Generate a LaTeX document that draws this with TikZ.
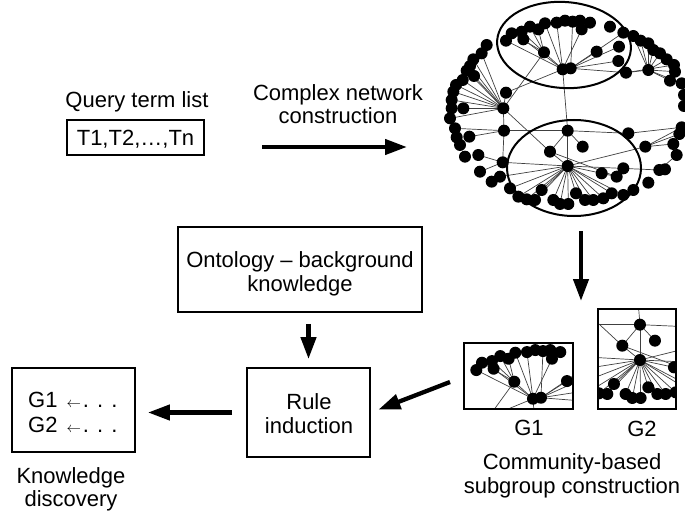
\documentclass[tikz,border=0pt]{standalone}
\usepackage{fontspec}
\setmainfont{Liberation Sans}
\usetikzlibrary{arrows.meta,shapes.geometric}
\tikzset{
  lbl/.style={font=\fontsize{22}{24}\selectfont, inner sep=0pt, anchor=base},
  box/.style={draw, line width=1.8pt, inner sep=0pt},
  flow/.style={line width=4.3pt, -{Triangle[length=22pt,width=15pt]}},
  dot/.style={circle, fill=black, inner sep=0pt, minimum size=12pt},
  edge/.style={draw=black!75, line width=0.7pt},
  ring/.style={line width=2pt},
}
\newcommand\netgraph{%
  \foreach \i/\x/\y in {1/258/122, 2/275/100, 3/305/95, 4/330/80, 5/355/88, 6/375/70, 7/410/68, 8/435/62, 9/458/65, 10/480/62, 11/485/88, 12/510/68, 13/310/118, 14/372/157, 15/428/208, 16/452/205, 17/530/155, 18/597/140, 19/595/183, 20/570/80, 21/610/98, 22/640/108, 23/662/122, 24/685/130, 25/700/150, 26/720/160, 27/740/178, 28/762/195, 29/765/215, 30/750/242, 31/685/210, 32/618/218, 33/785/250, 34/792/285, 35/792/318, 36/785/382, 37/778/402, 38/760/432, 39/770/465, 40/676/440, 41/625/400, 42/200/135, 43/185/160, 44/160/178, 45/150/198, 46/140/212, 47/162/228, 48/128/240, 49/108/255, 50/100/275, 51/95/300, 52/95/325, 53/90/355, 54/105/385, 55/110/412, 56/120/435, 57/135/470, 58/130/325, 59/258/278, 60/250/325, 61/252/392, 62/148/410, 63/175/465, 64/180/515, 65/215/545, 66/240/530, 67/248/487, 68/443/392, 69/488/440, 70/390/455, 71/443/498, 72/545/520, 73/590/530, 74/610/505, 75/718/510, 76/735/508, 77/685/548, 78/640/570, 79/610/585, 80/575/580, 81/550/595, 82/520/600, 83/495/600, 84/468/580, 85/445/612, 86/420/612, 87/400/600, 88/365/570, 89/345/600, 90/320/598, 91/295/590, 92/270/565}
    {\coordinate (n\i) at (\x,\y);}
  \foreach \a/\b in {15/1, 15/13, 14/2, 14/3, 14/4, 14/5, 14/15, 15/6, 15/7, 11/15, 11/10, 11/8, 16/9, 16/17, 16/18, 16/19, 16/32, 16/21, 15/16, 15/68, 15/59, 14/60, 59/60, 31/22, 31/23, 31/24, 31/25, 31/26, 31/27, 31/29, 31/30, 31/33, 32/28, 32/31, 33/34, 36/40, 37/40, 38/40, 40/71, 41/68, 41/36, 39/75, 75/76, 74/73, 73/72, 72/71, 60/43, 60/44, 60/45, 60/46, 60/47, 60/48, 60/49, 60/50, 60/51, 60/52, 60/53, 60/58, 60/61, 61/62, 61/54, 61/68, 61/67, 67/63, 67/64, 65/66, 66/71, 67/71, 60/70, 70/71, 70/68, 68/69, 68/71, 70/73, 71/75, 71/92, 71/91, 71/90, 71/89, 71/88, 71/87, 71/86, 71/85, 71/84, 71/83, 71/82, 71/81, 71/80, 71/79}
    {\draw[edge] (n\a) -- (n\b);}
  \foreach \i in {1,...,92}{\node[dot] (d\i) at (n\i) {};}
}
\begin{document}
\begin{tikzpicture}[x=1pt,y=-1pt]
\useasboundingbox (0,0) rectangle (685,516);
% complex network
\begin{scope}[shift={(420,0)},scale=1/3]
  \netgraph
\end{scope}
\draw[ring, rotate around={-4:(564,45)}] (564,45) ellipse [x radius=67, y radius=43];
\draw[ring] (574,168) ellipse [x radius=67, y radius=48];
% subgroup G1
\begin{scope}
  \clip (464,343) rectangle (573,409);
  \begin{scope}[shift={(390.3,329.4)},scale=1/3]
    \netgraph
  \end{scope}
\end{scope}
\node[box, line width=1.2pt, minimum width=109, minimum height=66] (g1box) at (518.5,376) {};
% subgroup G2
\begin{scope}
  \clip (598,309) rectangle (676,409);
  \begin{scope}[shift={(492.3,194)},scale=1/3]
    \netgraph
  \end{scope}
\end{scope}
\node[box, line width=1.2pt, minimum width=78, minimum height=100] (g2box) at (637,359) {};
% query terms
\node[lbl] (qlabel) at (137,108) {Query term list};
\node[box, minimum width=137, minimum height=35] (terms) at (135.5,137.5) {};
\node[lbl] (termstext) at (135.5,146) {T1,T2,…,Tn};
% complex network construction
\node[lbl] (cn1) at (338,100.5) {Complex network};
\node[lbl] (cn2) at (338,123.5) {construction};
\coordinate (a1s) at (262,147);
\coordinate (a1e) at (407,147);
\draw[flow] (a1s) -- (a1e);
% network to subgroups
\coordinate (netout) at (581,231);
\coordinate (gin) at (581,301);
\draw[flow] (netout) -- (gin);
% ontology
\node[box, minimum width=244, minimum height=85] (onto) at (300,269.5) {};
\node[lbl] (onto1) at (300,267) {Ontology -- background};
\node[lbl] (onto2) at (300,291) {knowledge};
% rule induction
\node[box, minimum width=123, minimum height=89] (rule) at (308.5,412.5) {};
\node[lbl] (rule1) at (309,409) {Rule};
\node[lbl] (rule2) at (309,433) {induction};
% knowledge discovery
\node[box, minimum width=123, minimum height=84] (kbox) at (73.5,410) {};
\node[lbl, anchor=base west] (k1) at (28,407) {G1\hspace{9pt}{\fontsize{15}{15}\selectfont$\leftarrow$}\hspace{2pt}. . .};
\node[lbl, anchor=base west] (k2) at (28,432) {G2\hspace{9pt}{\fontsize{15}{15}\selectfont$\leftarrow$}\hspace{2pt}. . .};
\node[lbl] (kd1) at (71,483) {Knowledge};
\node[lbl] (kd2) at (71,506) {discovery};
% subgroup labels
\node[lbl] (g1l) at (529,435) {G1};
\node[lbl] (g2l) at (642,436.5) {G2};
\node[lbl] (cb1) at (572,469) {Community-based};
\node[lbl] (cb2) at (572,493) {subgroup construction};
% flow arrows
\draw[flow, shorten <=11pt, shorten >=8pt] (rule.north |- onto.south) -- (rule.north);
\coordinate (g1out) at (450,382);
\draw[flow, shorten >=8pt] (g1out) -- (rule.east);
\draw[flow, shorten <=14pt, shorten >=12pt] (rule.west) -- (kbox.east |- rule.west);
\end{tikzpicture}
\end{document}
